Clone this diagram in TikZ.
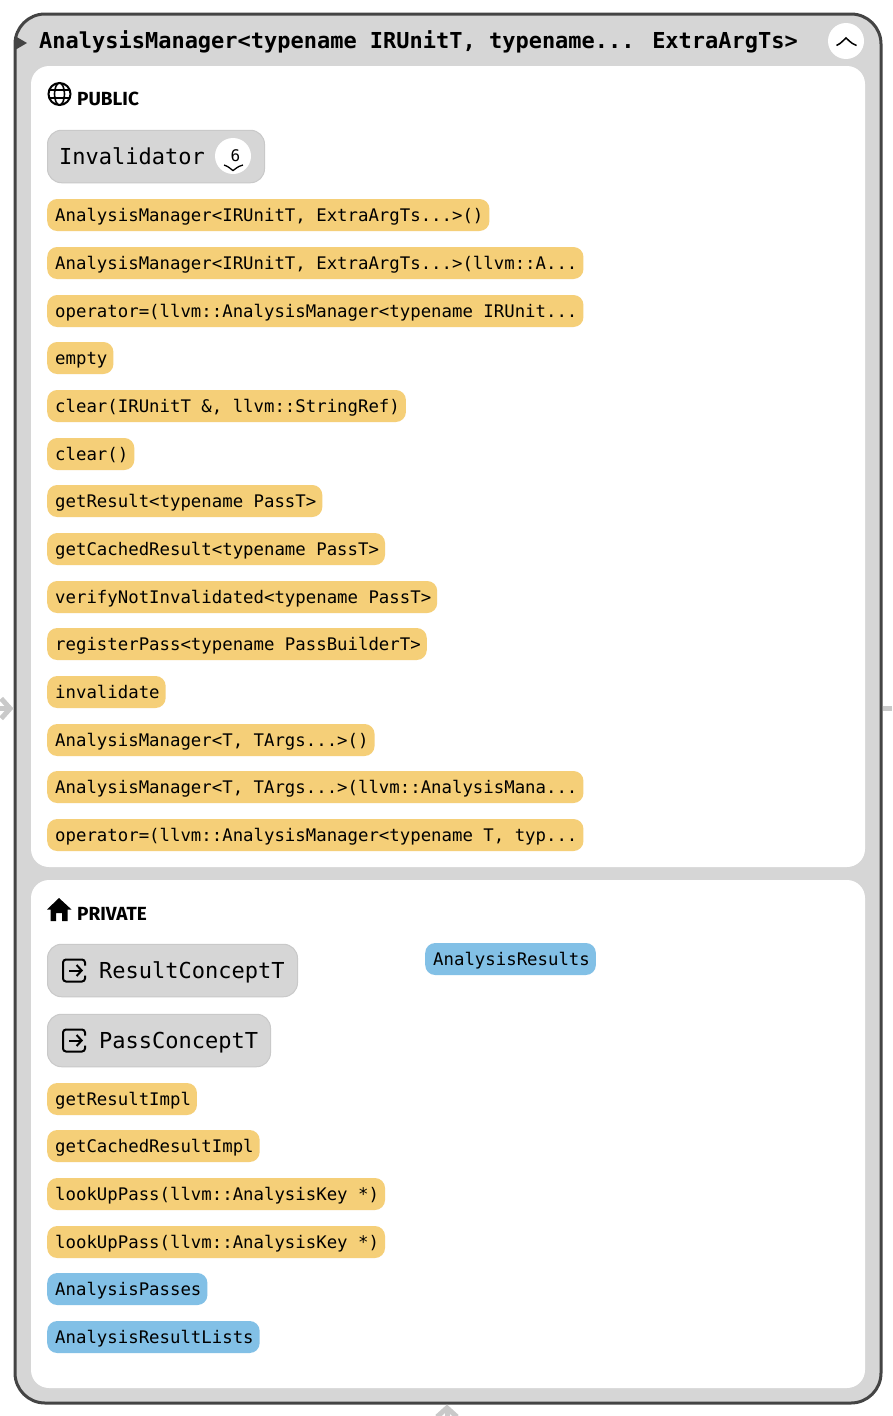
\documentclass[tikz,border=0pt]{standalone}
\usepackage{fontspec}
\setmainfont{Fira Sans}
\newfontfamily\codefont{DejaVu Sans Mono}
\definecolor{panelgray}{HTML}{D6D6D6}
\definecolor{edgegray}{HTML}{C9C9C9}
\definecolor{framegray}{HTML}{444444}
\definecolor{methodyellow}{HTML}{F5CF78}
\definecolor{memberblue}{HTML}{82C0E6}
\usetikzlibrary{arrows.meta}
\tikzset{
    memberpill/.style={anchor=west, rounded corners=10pt, inner xsep=8pt, inner ysep=8pt,
        text height=14pt, text depth=2pt, font=\codefont\fontsize{17.35}{20}\selectfont, text=black,
        execute at end node={\hspace{-2pt}}},
    methodpill/.style={memberpill, fill=methodyellow},
    fieldpill/.style={memberpill, fill=memberblue},
    innerclass/.style={anchor=west, draw=edgegray, fill=panelgray, rounded corners=14pt, line width=1pt,
        minimum height=52.5pt, inner xsep=0pt, inner ysep=0pt},
    classname/.style={anchor=west, inner sep=0pt, text height=16pt, text depth=0pt,
        font=\codefont\fontsize{22}{26}\selectfont},
    section/.style={fill=white, rounded corners=18pt, minimum width=834pt, inner sep=0pt},
    sectionlabel/.style={anchor=west, inner sep=0pt, font=\bfseries\fontsize{19}{24}\selectfont},
    roundbtn/.style={circle, fill=white, minimum size=36pt, inner sep=0pt},
    linkstub/.style={draw=edgegray, line width=5pt}
}
\begin{document}
\begin{tikzpicture}[x=1pt, y=-1pt]
    \useasboundingbox (0,0) rectangle (892,1416);
    % outer class box
    \node (manager) [draw=framegray, fill=panelgray, line width=3pt, rounded corners=30pt, inner sep=0pt,
        minimum width=866pt, minimum height=1389pt] at (448,708.5) {};
    \fill[framegray] (15,36) -- (27,43) -- (15,50) -- cycle;
    \node (title) [anchor=west, inner sep=0pt, text height=15pt, text depth=0pt,
        font=\codefont\bfseries\fontsize{21.98}{26}\selectfont]
        at (39,41) {AnalysisManager<typename IRUnitT, typename... ExtraArgTs>};
    \node (collapse) [roundbtn] at (846,41) {};
    \draw[black, line width=1.5pt] (836.5,45.5) .. controls (842,43) and (843,40) .. (846,38)
        .. controls (849,40) and (850,43) .. (856.5,45.5);
    % links to other classes
    \coordinate (inleft) at (-3,708.5);
    \coordinate (outright) at (892,708.5);
    \coordinate (inbottom) at (447,1419);
    \draw[linkstub, -{Straight Barb[length=9pt,width=20pt]}] (inleft) -- (manager.west);
    \draw[linkstub] (manager.east) -- (outright);
    \draw[linkstub, -{Straight Barb[length=9pt,width=20pt]}] (inbottom) -- (inbottom |- manager.south);
    % sections
    \node (public) [section, minimum height=801pt] at (448,466.5) {};
    \node (private) [section, minimum height=508pt] at (448,1134) {};
    % public
    \draw[black, line width=2pt] (59.5,94) circle (11);
    \draw[black, line width=1.6pt] (59.5,94) ellipse (5 and 11);
    \draw[black, line width=1.6pt] (49,90) -- (70,90) (49,98) -- (70,98);
    \node (publiclabel) [sectionlabel] at (77,99) {PUBLIC};
    \node (invalidator) [innerclass, minimum width=217pt] at (47,156.5) {};
    \node (invalidatorname) [classname] at (59,156) {Invalidator};
    \node (invalidatorcount) [roundbtn] at (233,156) {};
    \node (invalidatornum) [inner sep=0pt, font=\codefont\fontsize{16}{18}\selectfont] at (235.5,156) {6};
    \draw[black, line width=1.3pt] (224,165) .. controls (229,166.5) and (231,169.5) .. (233,170.5)
        .. controls (235,169.5) and (237,166.5) .. (243,165);
    \foreach \y/\mname/\mtext in {
        215/ctora/{AnalysisManager<IRUnitT, ExtraArgTs...>()},
        263/ctorb/{AnalysisManager<IRUnitT, ExtraArgTs...>(llvm::A...},
        311/assigna/{operator=(llvm::AnalysisManager<typename IRUnit...},
        358/emptym/{empty},
        406/cleara/{clear(IRUnitT \&, llvm::StringRef)},
        454/clearb/{clear()},
        501/getresult/{getResult<typename PassT>},
        549/getcached/{getCachedResult<typename PassT>},
        597/verifynot/{verifyNotInvalidated<typename PassT>},
        644/registerp/{registerPass<typename PassBuilderT>},
        692/invalidatem/{invalidate},
        740/ctorc/{AnalysisManager<T, TArgs...>()},
        787/ctord/{AnalysisManager<T, TArgs...>(llvm::AnalysisMana...},
        835/assignb/{operator=(llvm::AnalysisManager<typename T, typ...},
        1099/getresultimpl/{getResultImpl},
        1146/getcachedimpl/{getCachedResultImpl},
        1194/lookupa/{lookUpPass(llvm::AnalysisKey *)},
        1242/lookupb/{lookUpPass(llvm::AnalysisKey *)}}{
        \node (\mname) [methodpill] at (47,\y) {\mtext};
    }
    % private
    \fill[black] (47,909.5) -- (59,898) -- (71.5,909.5) -- (67.5,909.5) -- (67.5,921) -- (62,921) -- (62,913)
        -- (56,913) -- (56,921) -- (50.5,921) -- (50.5,909.5) -- cycle;
    \node (privatelabel) [sectionlabel] at (77,913.5) {PRIVATE};
    \foreach \y/\w/\mname/\mtext in {970.5/250/resultconcept/ResultConceptT, 1040.5/223/passconcept/PassConceptT}{
        \node (\mname) [innerclass, minimum width=\w pt] at (47,\y) {};
        \node (\mname text) [classname] at (99,\y) {\mtext};
        \draw[black, line width=2pt, rounded corners=3pt] (85,\y-5) -- (85,\y-11) -- (63,\y-11) -- (63,\y+11) -- (85,\y+11) -- (85,\y+5);
        \draw[black, line width=2pt, -{Straight Barb[length=5pt,width=11pt]}] (69,\y) -- (83,\y);
    }
    \node (analysisresults) [fieldpill] at (425,959) {AnalysisResults};
    \node (analysispasses) [fieldpill] at (47,1289) {AnalysisPasses};
    \node (analysisresultlists) [fieldpill] at (47,1337) {AnalysisResultLists};
\end{tikzpicture}
\end{document}
